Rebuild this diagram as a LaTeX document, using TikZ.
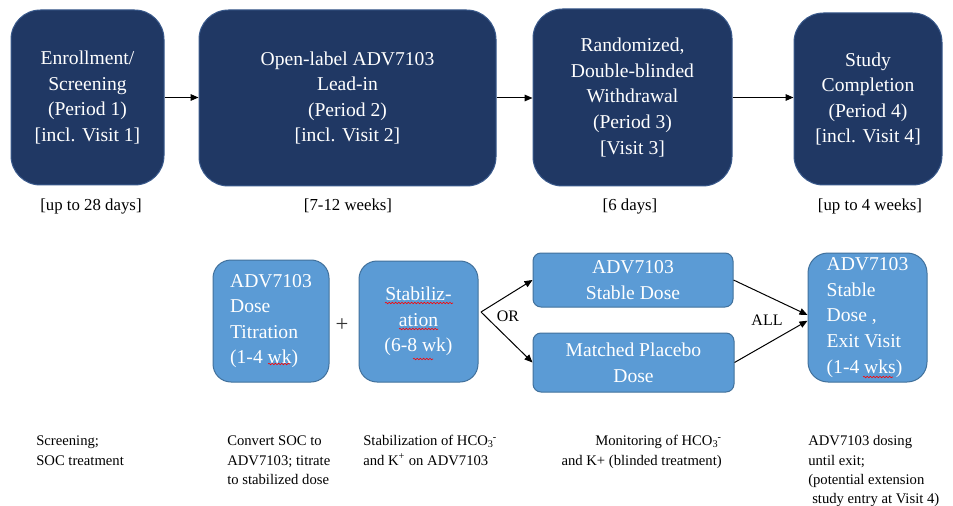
\documentclass[tikz,border=0pt]{standalone}
\usepackage{fontspec}
\setmainfont{Liberation Serif}
\usetikzlibrary{arrows.meta,decorations.pathmorphing}
\definecolor{navy}{HTML}{203864}
\definecolor{navyedge}{HTML}{3A5A8C}
\definecolor{lblue}{HTML}{5B9BD5}
\definecolor{lbedge}{HTML}{41719C}
\newcommand\hcoion{\textsubscript{3}\kern-0.05em\textsuperscript{-}}
\begin{document}
\begin{tikzpicture}[x=0.75pt,y=-0.75pt,
  topbox/.style={fill=navy, draw=navyedge, line width=0.75pt, rounded corners=22pt,
    text=white, font=\fontsize{14.7}{19.2}\selectfont, align=center, inner sep=0pt},
  lowbox/.style={fill=lblue, draw=lbedge, line width=0.75pt,
    text=white, font=\fontsize{14.7}{19.2}\selectfont, inner sep=0pt},
  arr/.style={-{Triangle[length=6pt,width=5pt]}, line width=0.75pt, black},
  dur/.style={font=\fontsize{12.6}{15}\selectfont, inner sep=0pt, anchor=base},
  lbl/.style={font=\fontsize{12}{14}\selectfont, inner sep=0pt},
  note/.style={font=\fontsize{11}{14.5}\selectfont, inner sep=0pt},
  spell/.style={red, line width=0.45pt, decorate, decoration={snake, amplitude=0.55pt, segment length=2.4pt}}
]
\path[use as bounding box, fill=white] (0,0) rectangle (953,506);

% top row
\node[topbox, minimum width=114.75pt, minimum height=131.25pt] (b1) at (87.5,97.5)
  {Enrollment/\\Screening\\(Period 1)\\{}[incl. Visit 1]};
\node[topbox, minimum width=222.75pt, minimum height=132pt] (b2) at (347.5,98)
  {Open-label ADV7103\\Lead-in\\(Period 2)\\{}[incl. Visit 2]};
\node[topbox, minimum width=149.25pt, minimum height=132.75pt] (b3) at (632.5,97.5)
  {Randomized,\\Double-blinded\\Withdrawal\\(Period 3)\\{}[Visit 3]};
\node[topbox, minimum width=111pt, minimum height=129pt] (b4) at (868,99)
  {Study\\Completion\\(Period 4)\\{}[incl. Visit 4]};

\draw[arr] (b1.east) -- (b1.east -| b2.west);
\draw[arr] (b2.east) -- (b2.east -| b3.west);
\draw[arr] (b3.east) -- (b3.east -| b4.west);

\node[dur] (d1) at (91,210) {[up to 28 days]};
\node[dur] (d2) at (348,210) {[7-12 weeks]};
\node[dur] (d3) at (630,210) {[6 days]};
\node[dur] (d4) at (870,210) {[up to 4 weeks]};

% lower row
\node[lowbox, rounded corners=13.5pt, align=left, minimum width=87pt, minimum height=91.5pt] (c1) at (271,321)
  {ADV7103\\Dose\\Titration\\(1-4 wk)};
\node[lowbox, fill=none, draw=none, text=black!80, font=\fontsize{17}{19}\selectfont] (plus) at (342,325) {+};
\node[lowbox, rounded corners=13.5pt, align=center, minimum width=89.25pt, minimum height=90.75pt] (c2) at (418.5,321.5)
  {Stabiliz-\\ation\\(6-8 wk)};
\node[lowbox, rounded corners=6pt, align=center, minimum width=150pt, minimum height=40.5pt] (c3) at (633,280)
  {ADV7103\\Stable Dose};
\node[lowbox, rounded corners=6pt, align=center, minimum width=150.75pt, minimum height=44.25pt] (c4) at (633.5,362.5)
  {Matched Placebo\\Dose};
\node[lowbox, rounded corners=15pt, align=left, minimum width=89.25pt, minimum height=96.75pt] (c5) at (867.5,317.5)
  {ADV7103\\Stable\\Dose ,\\Exit Visit\\(1-4 wks)};

% spell-check squiggles
\draw[spell] (268,364) -- (290,364);
\draw[spell] (385,303) -- (453,303);
\draw[spell] (399,329) -- (438,329);
\draw[spell] (413,359) -- (433,359);
\draw[spell] (863,377) -- (893,377);

\coordinate (fork) at (481,312);
\draw[arr] (fork) -- (c3.west);
\draw[arr] (fork) -- (c4.west);
\node[lbl] (or) at (508,316) {OR};

\draw[arr] (c3.east) -- ([yshift=1.9pt]c5.west);
\draw[arr] (c4.east) -- ([yshift=-2.4pt]c5.west);
\node[lbl] (all) at (767,320) {ALL};

% notes
\node[note, align=left, anchor=north west] (n1) at (36,432)
  {\strut Screening;\\SOC treatment};
\node[note, align=left, anchor=north west] (n2) at (227,432)
  {\strut Convert SOC to\\ADV7103; titrate\\to stabilized dose};
\node[note, align=left, anchor=north west] (n3) at (363,432)
  {\strut Stabilization of HCO\hcoion\\and K\textsuperscript{+} on ADV7103};
\node[note, align=right, anchor=north east] (n4) at (722,432)
  {\strut Monitoring of HCO\hcoion\\and K+ (blinded treatment)};
\node[note, align=left, anchor=north west] (n5) at (808,432)
  {\strut ADV7103 dosing\\until exit;\\(potential extension\\\hspace*{3pt}study entry at Visit 4)};
\end{tikzpicture}
\end{document}
